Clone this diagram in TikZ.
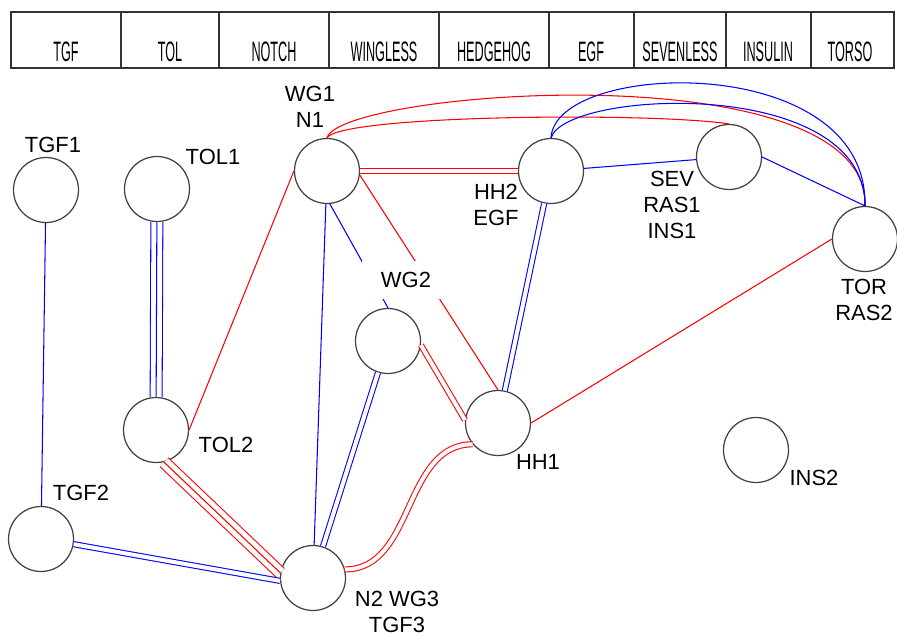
\documentclass[tikz,border=0pt]{standalone}
\usepackage{graphicx}
\usepackage{fontspec}
\setmainfont{Liberation Sans}

\begin{document}
\begin{tikzpicture}
  [x=0.02cm,y=-0.02cm,
   gene/.style={circle,draw=black!75,line width=0.7pt,inner sep=0pt,minimum size=1.3cm},
   lbl/.style={inner sep=0pt,align=center,font=\fontsize{12.5}{15}\selectfont},
   hdr/.style={inner sep=0pt,font=\fontsize{16}{18}\selectfont},
   lnk/.style={line width=0.6pt},
   dbl/.style={draw=#1,line width=0.6pt,double=white,double distance=2.3pt},
   trp/.style={draw=#1,line width=0.6pt,double=white,double distance=6.2pt}]
  \useasboundingbox (0,0) rectangle (897,637);

  % header row
  \draw[black!80,line width=0.7pt] (11,12) rectangle (894,68);
  \foreach \x in {121,219,329,439,549,634,726,811}
    \draw[black!80,line width=0.6pt] (\x,12) -- (\x,68);
  \foreach \x/\name [count=\i] in {66/TGF,170/TOL,274/NOTCH,384/WINGLESS,494/HEDGEHOG,591/EGF,680/SEVENLESS,768/INSULIN,850/TORSO}
    \node[hdr] (h\i) at (\x,52) {\scalebox{0.45}[1]{\name}};

  \node[gene] (TGF1) at (46,190) {};
  \node[gene] (TOL1) at (157,189) {};
  \node[gene] (WG1) at (327,171) {};
  \node[gene] (HH2) at (551,171) {};
  \node[gene] (SEV) at (729,157) {};
  \node[gene] (TOR) at (865,239) {};
  \node[gene] (WG2) at (388,341) {};
  \node[gene] (HH1) at (498,423) {};
  \node[gene] (TOL2) at (156,430) {};
  \node[gene] (TGF2) at (41,539) {};
  \node[gene] (N2) at (313,578) {};
  \node[gene] (INS2) at (756,450) {};

  % single links
  \foreach \from/\to in {TGF1/TGF2,WG1/N2,WG1.-85/WG2.north,HH2/SEV,SEV.east/TOR.north}
    \draw[lnk,blue] (\from) -- (\to);
  \foreach \from/\to in {TOL2.east/WG1.west,WG1.-7/HH1.north,HH1.east/TOR.west}
    \draw[lnk,red] (\from) -- (\to);
  % double links
  \foreach \from/\to in {HH2/HH1,WG2/N2,TGF2.-9/N2.-175}
    \draw[dbl=blue] (\from) -- (\to);
  \foreach \from/\to in {WG1/HH2,WG2.-7/HH1.175}
    \draw[dbl=red] (\from) -- (\to);
  \draw[dbl=red] (N2.15) to[out=0,in=180] (HH1.220);
  % triple links
  \draw[trp=blue] (TOL1) -- (TOL2);
  \draw[lnk,blue] (TOL1) -- (TOL2);
  \draw[trp=red] (TOL2.-76) -- (N2.171);
  \draw[lnk,red] (TOL2.-76) -- (N2.171);
  % arcs over the top
  \draw[lnk,red] (WG1.north) .. controls (340,90) and (870,50) .. (TOR.north);
  \draw[lnk,red] (WG1.north) .. controls (340,115) and (650,112) .. (SEV.north);
  \draw[lnk,blue] (HH2.north) .. controls (555,60) and (868,50) .. (TOR.north);
  \draw[lnk,blue] (HH2.north) .. controls (565,90) and (865,75) .. (TOR.north);

  \node[lbl] (lTGF1) at (53,145) {TGF1};
  \node[lbl] (lTOL1) at (213,157) {TOL1};
  \node[lbl] (lWG1) at (310,107) {WG1\\N1};
  \node[lbl] (lHH2) at (496,205) {HH2\\EGF};
  \node[lbl] (lSEV) at (672,205) {SEV\\RAS1\\INS1};
  \node[lbl] (lTOR) at (864,300) {TOR\\RAS2};
  \node[lbl,fill=white,inner xsep=0.37cm,inner ysep=0.23cm] (lWG2) at (406,280) {WG2};
  \node[lbl] (lHH1) at (538,462) {HH1};
  \node[lbl] (lTOL2) at (226,445) {TOL2};
  \node[lbl] (lTGF2) at (81,493) {TGF2};
  \node[lbl] (lN2) at (397,612) {N2 WG3\\TGF3};
  \node[lbl] (lINS2) at (814,478) {INS2};
\end{tikzpicture}
\end{document}
